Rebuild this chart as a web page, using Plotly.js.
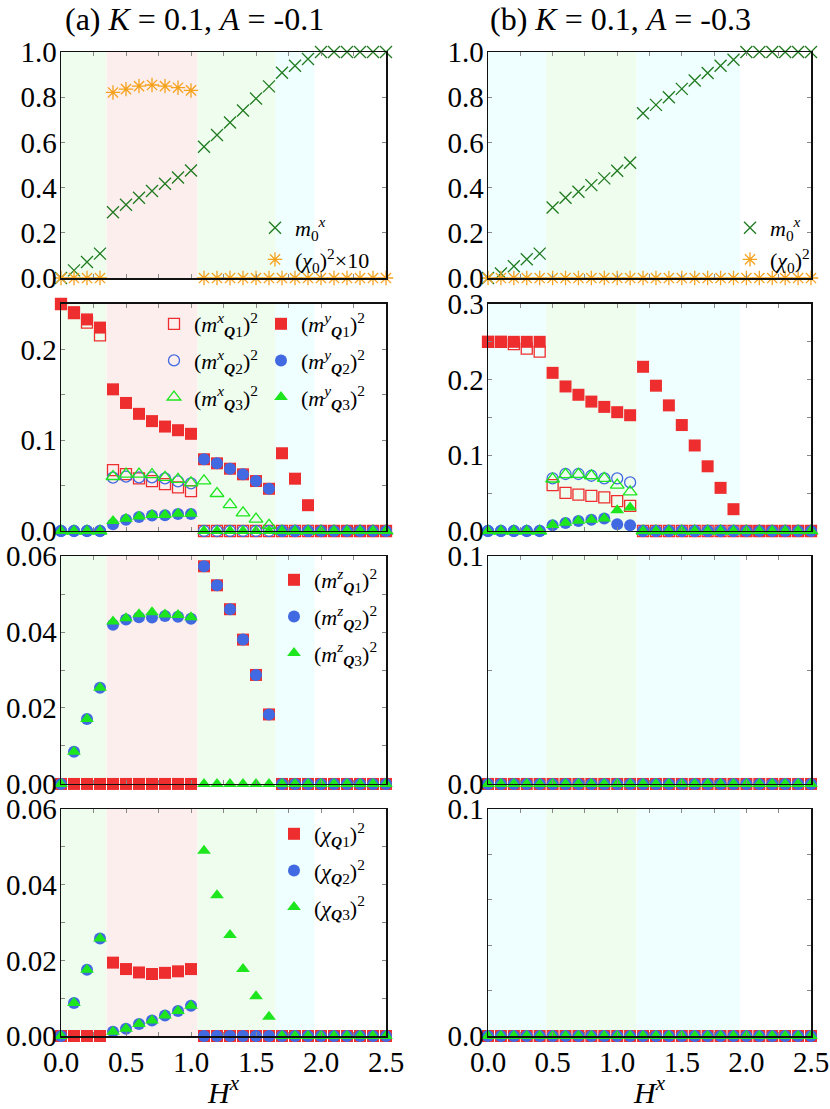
<!DOCTYPE html>
<html>
<head>
<meta charset="utf-8">
<script src="https://cdn.plot.ly/plotly-3.0.1.min.js"></script>
<style>html,body{margin:0;padding:0;background:#fff;}</style>
</head>
<body>
<div id="plot" style="width:830px;height:1109px;"></div>
<script>
// field H^x, shared by every panel
var H = [0.0,0.1,0.2,0.3,0.4,0.5,0.6,0.7,0.8,0.9,1.0,1.1,1.2,1.3,1.4,1.5,1.6,1.7,1.8,1.9,2.0,2.1,2.2,2.3,2.4,2.5];

// ---- (a) K = 0.1, A = -0.1 ----
var m0xA   = [0,0.034,0.071,0.108,0.291,0.324,0.355,0.385,0.417,0.445,0.476,0.581,0.633,0.688,0.741,0.794,0.848,0.908,0.939,0.969,1,1,1,1,1,1];
var chi0A  = [0,0,0,0,0.821,0.836,0.849,0.854,0.849,0.842,0.830,0,0,0,0,0,0,0,0,0,0,0,0,0,0,0];

var mxQ1A = [0.250,0.240,0.2295,0.2155,0.067,0.0627,0.058,0.055,0.0517,0.048,0.044,0,0,0,0,0,0,0,0,0,0,0,0,0,0,0];
var mxQ2A = [0,0,0,0,0.0587,0.0598,0.059,0.059,0.058,0.0546,0.0524,0,0,0,0,0,0,0,0,0,0,0,0,0,0,0];
var mxQ3A = [0,0,0,0,0.060,0.0627,0.0627,0.062,0.059,0.0568,0.053,0.0553,0.0413,0.029,0.020,0.013,0.0063,0,0,0,0,0,0,0,0,0];
var myQ1A = [0.250,0.241,0.233,0.224,0.156,0.141,0.129,0.121,0.115,0.111,0.107,0.079,0.0745,0.0686,0.0624,0.055,0.0465,0.0856,0.0576,0.0284,0,0,0,0,0,0];
var myQ2A = [0,0,0,0,0.0074,0.0125,0.0155,0.017,0.0173,0.0188,0.0188,0.079,0.0745,0.0686,0.0624,0.055,0.0465,0,0,0,0,0,0,0,0,0];
var myQ3A = [0,0,0,0,0.011,0.0135,0.016,0.0175,0.0175,0.019,0.019,0,0,0,0,0,0,0,0,0,0,0,0,0,0,0];

var mzQ1A = [0,0,0,0,0,0,0,0,0,0,0,0.0573,0.0523,0.046,0.038,0.0287,0.0183,0,0,0,0,0,0,0,0,0];
var mzQ2A = [0,0.0085,0.0171,0.0253,0.0419,0.0433,0.0439,0.0438,0.0442,0.044,0.0435,0.0573,0.0523,0.046,0.038,0.0287,0.0183,0,0,0,0,0,0,0,0,0];
var mzQ3A = [0,0.0085,0.0171,0.0253,0.0428,0.0436,0.0447,0.0452,0.0446,0.0445,0.0439,0,0,0,0,0,0,0,0,0,0,0,0,0,0,0];

var chiQ1A = [0,0,0,0,0.0194,0.0177,0.0168,0.0164,0.0167,0.0171,0.0177,0,0,0,0,0,0,0,0,0,0,0,0,0,0,0];
var chiQ2A = [0,0.0087,0.0175,0.0258,0.0011,0.0019,0.0032,0.0041,0.0054,0.0066,0.008,0,0,0,0,0,0,0,0,0,0,0,0,0,0,0];
var chiQ3A = [0,0.0087,0.0175,0.0258,0.0011,0.0019,0.0032,0.0041,0.0054,0.0066,0.008,0.049,0.0372,0.0267,0.0177,0.0105,0.0051,0,0,0,0,0,0,0,0,0];

// ---- (b) K = 0.1, A = -0.3 ----
var m0xB  = [0,0.02,0.052,0.083,0.108,0.312,0.355,0.382,0.411,0.441,0.475,0.510,0.729,0.766,0.800,0.837,0.874,0.907,0.939,0.966,1,1,1,1,1,1];
var chi0B = [0,0,0,0,0,0,0,0,0,0,0,0,0,0,0,0,0,0,0,0,0,0,0,0,0,0];

var mxQ1B = [0.250,0.250,0.247,0.241,0.237,0.0607,0.0505,0.048,0.0465,0.0443,0.0394,0.0332,0,0,0,0,0,0,0,0,0,0,0,0,0,0];
var mxQ2B = [0,0,0,0,0,0.0696,0.0753,0.0753,0.073,0.0696,0.0696,0.0642,0,0,0,0,0,0,0,0,0,0,0,0,0,0];
var mxQ3B = [0,0,0,0,0,0.0687,0.0744,0.0749,0.073,0.0696,0.0607,0.0518,0,0,0,0,0,0,0,0,0,0,0,0,0,0];
var myQ1B = [0.25,0.25,0.25,0.25,0.25,0.209,0.191,0.180,0.171,0.164,0.157,0.153,0.217,0.192,0.166,0.140,0.113,0.0855,0.057,0.0288,0,0,0,0,0,0];
var myQ2B = [0,0,0,0,0,0.0075,0.0106,0.0133,0.015,0.0164,0.0089,0.0075,0,0,0,0,0,0,0,0,0,0,0,0,0,0];
var myQ3B = [0,0,0,0,0,0.008,0.011,0.0135,0.015,0.0165,0.0275,0.031,0,0,0,0,0,0,0,0,0,0,0,0,0,0];

var mzQB  = [0,0,0,0,0,0,0,0,0,0,0,0,0,0,0,0,0,0,0,0,0,0,0,0,0,0];
var chiQB = [0,0,0,0,0,0,0,0,0,0,0,0,0,0,0,0,0,0,0,0,0,0,0,0,0,0];

// phase regions (boundaries in H^x) and their kind
var phaseEdgesA = [0, 0.35, 1.05, 1.65, 1.95];
var phaseKindsA = ["g", "p", "g", "c"];
var phaseEdgesB = [0, 0.45, 1.15, 1.95];
var phaseKindsB = ["c", "g", "c"];

// labelled ticks and unlabelled (minor) ticks
var xTickVals = [0,0.5,1.0,1.5,2.0,2.5], xTickText = ["0.0","0.5","1.0","1.5","2.0","2.5"];
var xMinor = [0.25,0.75,1.25,1.75,2.25];
var yVals1 = [0,0.2,0.4,0.6,0.8,1.0], yText1 = ["0.0","0.2","0.4","0.6","0.8","1.0"], yMinor1 = [];
var yValsA2 = [0,0.1,0.2], yTextA2 = ["0.0","0.1","0.2"], yMinorA2 = [0.05,0.15,0.25];
var yValsA34 = [0,0.02,0.04,0.06], yTextA34 = ["0.00","0.02","0.04","0.06"], yMinorA34 = [0.01,0.03,0.05];
var yValsB2 = [0,0.1,0.2,0.3], yTextB2 = ["0.0","0.1","0.2","0.3"], yMinorB2 = [0.05,0.15,0.25];
var yValsB3 = [0,0.1], yTextB3 = ["0.0","0.1"], yMinorB3 = [0.05];
var yValsB4 = [0,0.1], yTextB4 = ["0.0","0.1"], yMinorB4 = [0.02,0.04,0.06,0.08];

var RED = "#ee2e2e", BLUE = "#4169e1", GREEN = "#1ee61e", DKGREEN = "#1f7a1f", ORANGE = "#f5a21d";
var phaseColors = {g: "#effdef", p: "#fdeeee", c: "#effefe"};
var FONT = "Liberation Serif";

function tr(y, ax, name, sym, color, size, legend) {
  var open = sym.indexOf("open") >= 0;
  return {
    x: H, y: y, xaxis: "x" + ax, yaxis: "y" + ax,
    type: "scatter", mode: "markers", cliponaxis: false,
    name: name, legend: legend || "legend", showlegend: !!legend,
    legendgroup: name + ax,
    marker: {symbol: sym, color: color, size: size,
             line: {color: color, width: open ? 1.3 : 0}}
  };
}

var lblM0 = "<i>m</i><sub>0</sub><sup><i>x</i></sup>";
function lblM(c, n) { return "(<i>m</i><sup><i>" + c + "</i></sup><sub><b><i>Q</i></b>" + n + "</sub>)<sup>2</sup>"; }
function lblChi(n) { return "(<i>χ</i><sub><b><i>Q</i></b>" + n + "</sub>)<sup>2</sup>"; }

var data = [
  // (a) row 1
  tr(m0xA, "", lblM0, "x-thin-open", DKGREEN, 12, "legend"),
  tr(chi0A, "", "(<i>χ</i><sub>0</sub>)<sup>2</sup>×10", "asterisk-open", ORANGE, 12, "legend"),
  // (a) row 2
  tr(mxQ1A, "2", lblM("x", 1), "square-open", RED, 11, "legend2"),
  tr(mxQ2A, "2", lblM("x", 2), "circle-open", BLUE, 11, "legend2"),
  tr(mxQ3A, "2", lblM("x", 3), "triangle-up-open", GREEN, 12, "legend2"),
  tr(myQ1A, "2", lblM("y", 1), "square", RED, 12, "legend3"),
  tr(myQ2A, "2", lblM("y", 2), "circle", BLUE, 12, "legend3"),
  tr(myQ3A, "2", lblM("y", 3), "triangle-up", GREEN, 12, "legend3"),
  // (a) row 3
  tr(mzQ1A, "3", lblM("z", 1), "square", RED, 12, "legend4"),
  tr(mzQ2A, "3", lblM("z", 2), "circle", BLUE, 12, "legend4"),
  tr(mzQ3A, "3", lblM("z", 3), "triangle-up", GREEN, 12, "legend4"),
  // (a) row 4
  tr(chiQ1A, "4", lblChi(1), "square", RED, 12, "legend5"),
  tr(chiQ2A, "4", lblChi(2), "circle", BLUE, 12, "legend5"),
  tr(chiQ3A, "4", lblChi(3), "triangle-up", GREEN, 12, "legend5"),
  // (b) row 1
  tr(m0xB, "5", lblM0, "x-thin-open", DKGREEN, 12, "legend6"),
  tr(chi0B, "5", "(<i>χ</i><sub>0</sub>)<sup>2</sup>", "asterisk-open", ORANGE, 12, "legend6"),
  // (b) row 2
  tr(mxQ1B, "6", "mxQ1", "square-open", RED, 11),
  tr(mxQ2B, "6", "mxQ2", "circle-open", BLUE, 11),
  tr(mxQ3B, "6", "mxQ3", "triangle-up-open", GREEN, 12),
  tr(myQ1B, "6", "myQ1", "square", RED, 12),
  tr(myQ2B, "6", "myQ2", "circle", BLUE, 12),
  tr(myQ3B, "6", "myQ3", "triangle-up", GREEN, 12),
  // (b) row 3
  tr(mzQB, "7", "mzQ1", "square", RED, 12),
  tr(mzQB, "7", "mzQ2", "circle", BLUE, 12),
  tr(mzQB, "7", "mzQ3", "triangle-up", GREEN, 12),
  // (b) row 4
  tr(chiQB, "8", "chiQ1", "square", RED, 12),
  tr(chiQB, "8", "chiQ2", "circle", BLUE, 12),
  tr(chiQB, "8", "chiQ3", "triangle-up", GREEN, 12)
];

var rowDom = [[0.7493, 0.9531], [0.5212, 0.7259], [0.2931, 0.4986], [0.0658, 0.2705]];
var colDom = [[61 / 830, 386 / 830], [488 / 830, 811 / 830]];

function minorTicks(vals) {
  return {tickmode: "array", tickvals: vals, ticks: "inside", ticklen: 4, tickcolor: "#888", tickwidth: 1, showgrid: false};
}

function xax(col, row, id) {
  var bottom = row === 3;
  var a = {
    domain: colDom[col], range: [0, 2.5], anchor: "y" + id,
    tickmode: "array", tickvals: xTickVals, ticktext: xTickText, minor: minorTicks(xMinor),
    showticklabels: bottom, ticks: "inside", ticklen: 4, tickcolor: "#888", tickwidth: 1,
    showline: true, linecolor: "#111", linewidth: 1.5, mirror: "ticks",
    showgrid: false, zeroline: false,
    tickfont: {family: FONT, size: 29, color: "#000"}
  };
  if (bottom) a.title = {text: "<i>H</i><sup><i>x</i></sup>", font: {family: FONT, size: 30, color: "#000"}, standoff: 0};
  return a;
}
function yax(col, row, id, range, vals, text, minor) {
  return {
    domain: rowDom[row], range: range, anchor: "x" + id,
    tickmode: "array", tickvals: vals, ticktext: text, minor: minorTicks(minor),
    ticks: "inside", ticklen: 4, tickcolor: "#888", tickwidth: 1,
    showline: true, linecolor: "#111", linewidth: 1.5, mirror: "ticks",
    showgrid: false, zeroline: false, ticklabelstandoff: -3,
    tickfont: {family: FONT, size: 29, color: "#000"}
  };
}

var layout = {
  width: 830, height: 1109,
  margin: {l: 0, r: 0, t: 0, b: 0},
  paper_bgcolor: "#fff", plot_bgcolor: "#fff",
  font: {family: FONT, color: "#000"},
  shapes: [],
  annotations: [
    {text: "(a) <i>K</i> = 0.1, <i>A</i> = -0.1", xref: "paper", yref: "paper", x: 63 / 830, y: 1 - 19 / 1109,
     xanchor: "left", yanchor: "middle", showarrow: false, font: {family: FONT, size: 32}},
    {text: "(b) <i>K</i> = 0.1, <i>A</i> = -0.3", xref: "paper", yref: "paper", x: 488 / 830, y: 1 - 19 / 1109,
     xanchor: "left", yanchor: "middle", showarrow: false, font: {family: FONT, size: 32}}
  ]
};

var axisDefs = [
  [0, 0, "", [0, 1], yVals1, yText1, yMinor1],
  [0, 1, "2", [0, 0.25], yValsA2, yTextA2, yMinorA2],
  [0, 2, "3", [0, 0.06], yValsA34, yTextA34, yMinorA34],
  [0, 3, "4", [0, 0.06], yValsA34, yTextA34, yMinorA34],
  [1, 0, "5", [0, 1], yVals1, yText1, yMinor1],
  [1, 1, "6", [0, 0.3], yValsB2, yTextB2, yMinorB2],
  [1, 2, "7", [0, 0.1], yValsB3, yTextB3, yMinorB3],
  [1, 3, "8", [0, 0.1], yValsB4, yTextB4, yMinorB4]
];
axisDefs.forEach(function (d) {
  layout["xaxis" + d[2]] = xax(d[0], d[1], d[2]);
  layout["yaxis" + d[2]] = yax(d[0], d[1], d[2], d[3], d[4], d[5], d[6]);
  var edges = d[0] === 0 ? phaseEdgesA : phaseEdgesB;
  var kinds = d[0] === 0 ? phaseKindsA : phaseKindsB;
  for (var i = 0; i < kinds.length; i++) {
    layout.shapes.push({
      type: "rect", xref: "x" + d[2], yref: "y" + d[2] + " domain",
      x0: edges[i], x1: edges[i + 1], y0: 0, y1: 1,
      fillcolor: phaseColors[kinds[i]], line: {width: 0}, layer: "below"
    });
  }
});

function leg(x, y, gap) {
  return {x: x, y: y, xanchor: "left", yanchor: "top", bgcolor: "rgba(0,0,0,0)",
          borderwidth: 0, font: {family: FONT, size: 22, color: "#000"}, tracegroupgap: gap,
          itemclick: false};
}
layout.legend  = leg(255 / 830, 1 - 207 / 1109, 0);
layout.legend2 = leg(154 / 830, 1 - 303 / 1109, 5);
layout.legend3 = leg(261 / 830, 1 - 303 / 1109, 5);
layout.legend4 = leg(274 / 830, 1 - 559 / 1109, 5);
layout.legend5 = leg(274 / 830, 1 - 813 / 1109, 5);
layout.legend6 = leg(730 / 830, 1 - 207 / 1109, 0);

Plotly.newPlot("plot", data, layout, {displayModeBar: false, staticPlot: true});
</script>
</body>
</html>
